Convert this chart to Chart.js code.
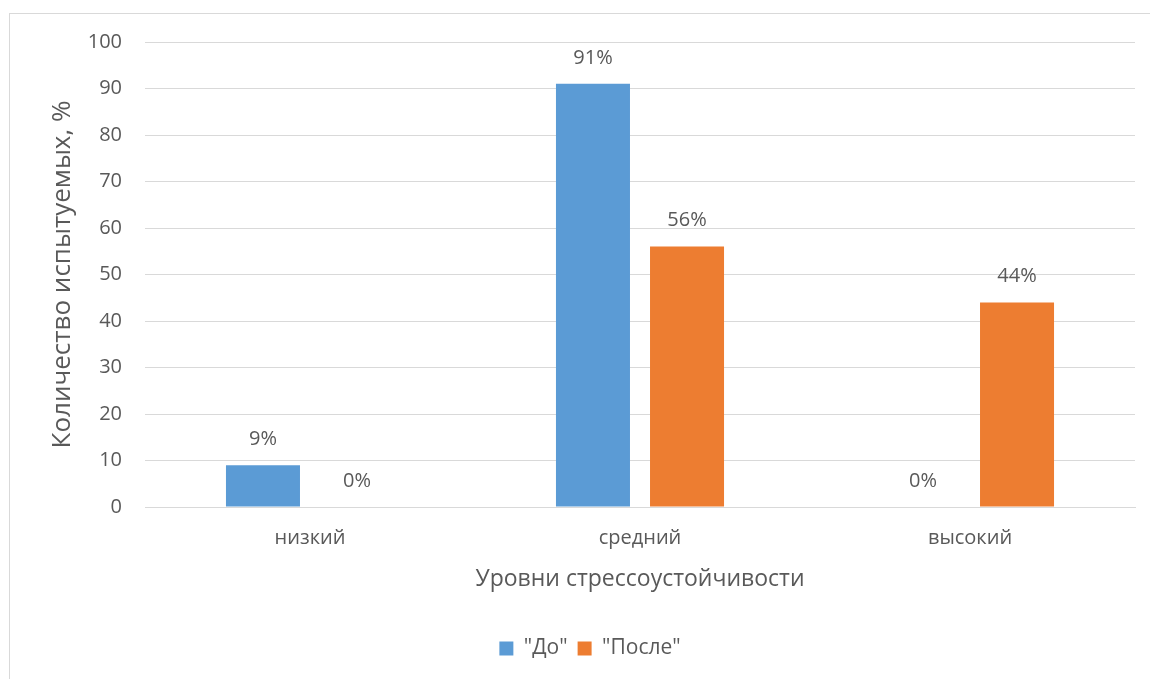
<!DOCTYPE html>
<html>
<head>
<meta charset="utf-8">
<script src="https://cdn.jsdelivr.net/npm/chart.js@4/dist/chart.umd.min.js"></script>
<style>
html,body{margin:0;padding:0;background:#fff;}
#wrap{width:1150px;height:679px;position:relative;}
</style>
</head>
<body>
<div id="wrap"><canvas id="c" width="1150" height="679"></canvas></div>
<script>
const categories = ["низкий", "средний", "высокий"];
const seriesNames = ['"До"', '"После"'];
const valuesBefore = [9, 91, 0];
const valuesAfter = [0, 56, 44];
const yTicks = [0, 10, 20, 30, 40, 50, 60, 70, 80, 90, 100];

const FONT = "'Open Sans', sans-serif";
const TXT = "#595959";

const frame = {
  id: 'frame',
  beforeDraw(chart) {
    const ctx = chart.ctx;
    ctx.save();
    ctx.fillStyle = '#fff';
    ctx.fillRect(0, 0, chart.width, chart.height);
    ctx.strokeStyle = '#d9d9d9';
    ctx.lineWidth = 1;
    ctx.strokeRect(9.5, 13.5, 1300, 800);
    ctx.restore();
  }
};

const labels = {
  id: 'labels',
  afterDatasetsDraw(chart) {
    const ctx = chart.ctx;
    ctx.save();
    ctx.font = "20px " + FONT;
    ctx.fillStyle = TXT;
    ctx.textAlign = 'center';
    ctx.textBaseline = 'middle';
    chart.data.datasets.forEach((ds, i) => {
      const meta = chart.getDatasetMeta(i);
      meta.data.forEach((bar, j) => {
        ctx.fillText(ds.data[j] + '%', bar.x, bar.y - 26);
      });
    });
    ctx.restore();
  }
};

new Chart(document.getElementById('c'), {
  type: 'bar',
  data: {
    labels: categories,
    datasets: [
      { label: seriesNames[0], data: valuesBefore, backgroundColor: '#5B9BD5', borderWidth: 0 },
      { label: seriesNames[1], data: valuesAfter, backgroundColor: '#ED7D31', borderWidth: 0 }
    ]
  },
  options: {
    responsive: false,
    animation: false,
    devicePixelRatio: 1,
    layout: { padding: { left: 45, right: 15, top: 42, bottom: 10 } },
    datasets: { bar: { categoryPercentage: 0.57, barPercentage: 0.787 } },
    plugins: {
      legend: {
        position: 'bottom',
        labels: {
          font: { family: FONT, size: 21 },
          color: TXT,
          boxWidth: 14,
          boxHeight: 14,
          padding: 10
        }
      },
      tooltip: { enabled: false }
    },
    scales: {
      x: {
        grid: { display: false, drawTicks: false },
        border: { display: true, color: '#d9d9d9' },
        ticks: { font: { family: FONT, size: 20 }, color: TXT, padding: 19 },
        title: {
          display: true,
          text: 'Уровни стрессоустойчивости',
          font: { family: FONT, size: 23 },
          color: TXT,
          padding: { top: 0, bottom: 35 }
        },
        afterFit(scale) { scale.height = 121; }
      },
      y: {
        min: 0,
        max: 100,
        afterBuildTicks(scale) { scale.ticks = yTicks.map(v => ({ value: v })); },
        grid: { color: '#d9d9d9', drawTicks: false },
        border: { display: false },
        ticks: { font: { family: FONT, size: 20 }, color: TXT, padding: 23 },
        title: {
          display: true,
          text: 'Количество испытуемых, %',
          font: { family: FONT, size: 26 },
          color: TXT,
          padding: { top: 2, bottom: 0 }
        },
        afterFit(scale) { scale.width = 100; }
      }
    }
  },
  plugins: [frame, labels]
});
</script>
</body>
</html>
